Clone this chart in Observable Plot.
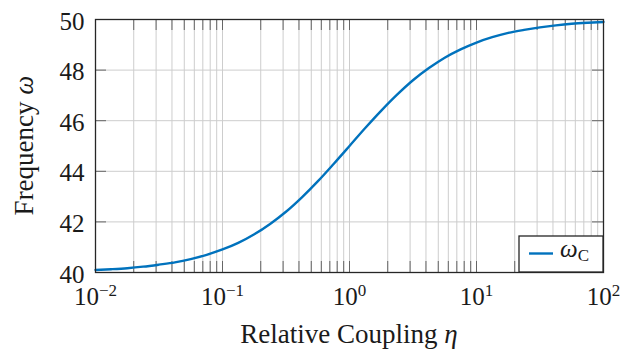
<!DOCTYPE html>
<html>
<head>
<meta charset="utf-8">
<script src="https://cdn.jsdelivr.net/npm/d3@7"></script>
<script src="https://cdn.jsdelivr.net/npm/@observablehq/plot@0.6"></script>
<style>
  html, body { margin: 0; padding: 0; background: white; }
  #chart { width: 629px; height: 353px; }
  #chart svg text, #chart svg tspan { font-family: "Liberation Serif", "Times New Roman", serif !important; font-variant: normal !important; }
</style>
</head>
<body>
<div id="chart"></div>
<script>
// Data
const eta = [0.01, 0.0133, 0.0178, 0.0237, 0.0316, 0.0422, 0.0562, 0.075, 0.1, 0.133, 0.178, 0.237, 0.316, 0.422, 0.562, 0.75, 1, 1.33, 1.78, 2.37, 3.16, 4.22, 5.62, 7.5, 10, 13.3, 17.8, 23.7, 31.6, 42.2, 56.2, 75, 100];
const omega = [40.10, 40.13, 40.17, 40.23, 40.31, 40.40, 40.53, 40.70, 40.91, 41.17, 41.51, 41.92, 42.40, 42.97, 43.60, 44.29, 45.00, 45.71, 46.40, 47.03, 47.60, 48.08, 48.49, 48.82, 49.09, 49.30, 49.47, 49.59, 49.69, 49.77, 49.83, 49.87, 49.90];
const xTicks = [0.01, 0.1, 1, 10, 100];
const yTicks = [40, 42, 44, 46, 48, 50];
const seriesName = "C";

const data = eta.map((e, i) => ({eta: e, omega: omega[i]}));
const minorTicks = xTicks.slice(0, -1).flatMap(d => d3.range(2, 10).map(k => d * k));
const allXTicks = xTicks.concat(minorTicks);

const W = 629, H = 353, mL = 95, mR = 26, mT = 19, mB = 81;
const pw = W - mL - mR, ph = H - mT - mB;
const tl = 11;
const gridColor = "#cdcdcd", tickColor = "#666666";
const fam = "'Liberation Serif', 'Times New Roman', serif";

const svg = Plot.plot({
  width: W, height: H,
  marginLeft: mL, marginRight: mR, marginTop: mT, marginBottom: mB,
  style: {fontFamily: fam, fontSize: "25px", color: "#1a1a1a", background: "white"},
  x: {type: "log", domain: [0.01, 100]},
  y: {domain: [40, 50]},
  marks: [
    Plot.ruleX(allXTicks, {stroke: gridColor, strokeWidth: 1}),
    Plot.ruleY(yTicks, {stroke: gridColor, strokeWidth: 1}),
    Plot.tickX(allXTicks, {x: d => d, insetTop: ph - tl, stroke: tickColor}),
    Plot.tickX(allXTicks, {x: d => d, insetBottom: ph - tl, stroke: tickColor}),
    Plot.tickY(yTicks, {y: d => d, insetRight: pw - tl, stroke: tickColor}),
    Plot.tickY(yTicks, {y: d => d, insetLeft: pw - tl, stroke: tickColor}),
    Plot.line(data, {x: "eta", y: "omega", stroke: "#0072BD", strokeWidth: 2.4, curve: "monotone-x"}),
    Plot.frame({stroke: "#262626", strokeWidth: 1.3}),
    Plot.axisX(xTicks, {tickSize: 0, tickPadding: 15, label: null, fontFamily: fam, fontSize: 25, fill: "#1a1a1a", tickFormat: d => "10^" + Math.round(Math.log10(d))}),
    Plot.axisY(yTicks, {tickSize: 0, tickPadding: 11, label: null, dy: 2, fontFamily: fam, fontSize: 25, fill: "#1a1a1a", tickFormat: d => String(d)})
  ]
});

const s = d3.select(svg);
// superscript exponents
s.selectAll('g[aria-label="x-axis tick label"] text').each(function() {
  const parts = this.textContent.split("^");
  const t = d3.select(this);
  t.text(null);
  t.append("tspan").text(parts[0]);
  t.append("tspan").attr("dy", -9).attr("font-size", 17).text(parts[1].replace("-", "\u2212"));
});

// axis titles
const xt = s.append("text").attr("x", mL + pw / 2).attr("y", 343)
  .attr("text-anchor", "middle").attr("font-size", 27).attr("fill", "#1a1a1a");
xt.append("tspan").text("Relative Coupling ");
xt.append("tspan").attr("font-style", "italic").text("\u03b7");

const yt = s.append("text").attr("transform", `translate(33,${mT + ph / 2}) rotate(-90)`)
  .attr("text-anchor", "middle").attr("font-size", 27).attr("fill", "#1a1a1a");
yt.append("tspan").text("Frequency ");
yt.append("tspan").attr("font-style", "italic").text("\u03c9");

// legend
const lg = s.append("g");
lg.append("rect").attr("x", 519).attr("y", 236).attr("width", W - mR - 519).attr("height", H - mB - 236)
  .attr("fill", "white").attr("stroke", "#262626").attr("stroke-width", 1.3);
lg.append("line").attr("x1", 529).attr("x2", 553).attr("y1", 253.5).attr("y2", 253.5)
  .attr("stroke", "#0072BD").attr("stroke-width", 2.4);
const lt = lg.append("text").attr("x", 560).attr("y", 257).attr("text-anchor", "start")
  .attr("font-size", 25).attr("fill", "#1a1a1a");
lt.append("tspan").attr("font-style", "italic").text("\u03c9");
lt.append("tspan").attr("dy", 4).attr("font-size", 17).text(seriesName);

// force the serif face on every text element
s.selectAll("text").each(function() {
  this.setAttribute("font-family", "Liberation Serif");
  this.style.fontFamily = "'Liberation Serif'";
});

document.getElementById("chart").appendChild(svg);
</script>
</body>
</html>
